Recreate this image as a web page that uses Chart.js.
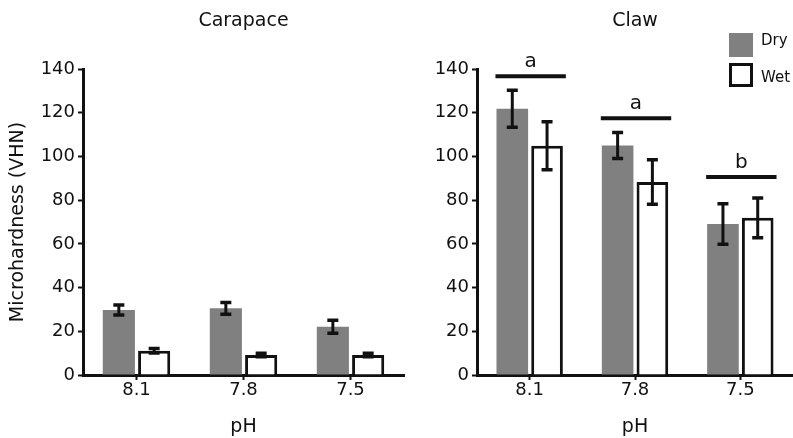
<!DOCTYPE html>
<html>
<head>
<meta charset="utf-8">
<script src="https://cdn.jsdelivr.net/npm/chart.js@4.4.1/dist/chart.umd.min.js"></script>
<style>
  html, body { margin: 0; padding: 0; background: #fff; }
  #wrap { position: relative; width: 793px; height: 438px; overflow: hidden; }
  #cL { position: absolute; left: 0; top: 0; }
  #cR { position: absolute; left: 410px; top: 0; }
</style>
</head>
<body>
<div id="wrap">
  <canvas id="cL" width="410" height="438"></canvas>
  <canvas id="cR" width="383" height="438"></canvas>
</div>
<script>
// ---- data ----
const categories = ['8.1', '7.8', '7.5'];
const carapaceDry = [29.7, 30.5, 22.1];
const carapaceDryErr = [2.3, 2.7, 3.0];
const carapaceWet = [11.1, 9.1, 9.2];
const carapaceWetErr = [1.0, 0.8, 0.8];
const clawDry = [121.8, 105.0, 69.1];
const clawDryErr = [8.5, 6.0, 9.3];
const clawWet = [104.9, 88.3, 71.9];
const clawWetErr = [11.0, 10.2, 9.1];
const clawSigLetters = ['a', 'a', 'b'];
const clawSigLevels = [136.7, 117.5, 90.6];
const yTicks = [0, 20, 40, 60, 80, 100, 120, 140];

const FONT = 'DejaVu Sans';
const INK = '#111';
const GRAY = '#808080';
Chart.defaults.font.family = FONT;
Chart.defaults.color = INK;

const errorBarPlugin = {
  id: 'errorBars',
  afterDatasetsDraw(chart) {
    const ctx = chart.ctx;
    const y = chart.scales.y;
    ctx.save();
    ctx.strokeStyle = INK;
    ctx.lineCap = 'butt';
    chart.data.datasets.forEach((ds, i) => {
      const meta = chart.getDatasetMeta(i);
      meta.data.forEach((el, j) => {
        const v = ds.data[j], e = ds.errors[j];
        const yt = y.getPixelForValue(v + e), yb = y.getPixelForValue(v - e);
        const half = 5.5;
        ctx.lineWidth = 3;
        ctx.beginPath();
        ctx.moveTo(el.x, yt); ctx.lineTo(el.x, yb);
        ctx.stroke();
        ctx.lineWidth = 3.5;
        ctx.beginPath();
        ctx.moveTo(el.x - half, yt); ctx.lineTo(el.x + half, yt);
        ctx.moveTo(el.x - half, yb); ctx.lineTo(el.x + half, yb);
        ctx.stroke();
      });
    });
    ctx.restore();
  }
};

const panelTitlePlugin = {
  id: 'panelTitle',
  afterDraw(chart, args, opts) {
    const ctx = chart.ctx;
    const a = chart.chartArea;
    ctx.save();
    ctx.fillStyle = INK;
    ctx.font = '19px ' + FONT;
    ctx.textAlign = 'center';
    ctx.textBaseline = 'middle';
    ctx.fillText(opts.text, (a.left + a.right) / 2, 21);
    ctx.restore();
  }
};

const sigPlugin = {
  id: 'sigBars',
  afterDraw(chart, args, opts) {
    if (!opts.levels) return;
    const ctx = chart.ctx;
    const y = chart.scales.y;
    const m0 = chart.getDatasetMeta(0), m1 = chart.getDatasetMeta(1);
    ctx.save();
    ctx.strokeStyle = INK;
    ctx.fillStyle = INK;
    ctx.lineWidth = 4;
    ctx.font = '20px ' + FONT;
    ctx.textAlign = 'center';
    ctx.textBaseline = 'alphabetic';
    opts.levels.forEach((lv, k) => {
      const b0 = m0.data[k], b1 = m1.data[k];
      const x0 = b0.x - b0.width / 2 - 1, x1 = b1.x + b1.width / 2 + 3;
      const py = y.getPixelForValue(lv);
      ctx.beginPath();
      ctx.moveTo(x0, py); ctx.lineTo(x1, py);
      ctx.stroke();
      ctx.fillText(opts.letters[k], (x0 + x1) / 2, py - 9);
    });
    ctx.restore();
  }
};

const legendPlugin = {
  id: 'boxLegend',
  afterDraw(chart, args, opts) {
    if (!opts.show) return;
    const ctx = chart.ctx;
    const x = chart.width - 64;
    ctx.save();
    ctx.font = '15px ' + FONT;
    ctx.textAlign = 'left';
    ctx.textBaseline = 'middle';
    chart.data.datasets.forEach((ds, i) => {
      const top = 33 + i * 30;
      if (ds.borderWidth) {
        ctx.fillStyle = ds.backgroundColor;
        ctx.fillRect(x, top, 24, 24);
        ctx.strokeStyle = ds.borderColor;
        ctx.lineWidth = 3;
        ctx.strokeRect(x + 1.5, top + 1.5, 21, 21);
      } else {
        ctx.fillStyle = ds.backgroundColor;
        ctx.fillRect(x, top, 24, 24);
      }
      ctx.fillStyle = INK;
      ctx.fillText(ds.label, x + 32, top + (i === 0 ? 8 : 15));
    });
    ctx.restore();
  }
};

function makeConfig(dry, dryErr, wet, wetErr, opts) {
  return {
    type: 'bar',
    data: {
      labels: categories,
      datasets: [
        { label: 'Dry', data: dry, errors: dryErr, backgroundColor: GRAY, borderWidth: 0,
          categoryPercentage: 0.66, barPercentage: 0.91 },
        { label: 'Wet', data: wet, errors: wetErr, backgroundColor: '#ffffff', borderColor: INK, borderWidth: 3,
          borderSkipped: 'start', categoryPercentage: 0.66, barPercentage: 0.91 }
      ]
    },
    options: {
      responsive: false,
      animation: false,
      events: [],
      layout: { padding: { top: 69, left: 0, right: opts.padRight, bottom: 0 } },
      plugins: {
        legend: { display: false },
        tooltip: { enabled: false },
        title: { display: false },
        panelTitle: { text: opts.title },
        sigBars: opts.sig || {},
        boxLegend: { show: !!opts.legend }
      },
      scales: {
        x: {
          afterFit(s) { s.height = 63; },
          grid: { display: true, drawOnChartArea: false, offset: false, drawTicks: true,
                  tickLength: 5, tickWidth: 2, tickColor: INK },
          border: { display: true, color: INK, width: 3 },
          ticks: { font: { size: 18 }, color: INK, padding: 0 },
          title: { display: true, text: 'pH', font: { size: 19 }, color: INK, padding: { top: 0, bottom: 0 } }
        },
        y: {
          min: 0, max: 140,
          afterFit(s) { s.width = opts.yWidth; },
          afterBuildTicks(s) { s.ticks = yTicks.map(v => ({ value: v })); },
          grid: { display: true, drawOnChartArea: false, drawTicks: true,
                  tickLength: 5, tickWidth: 2, tickColor: INK },
          border: { display: true, color: INK, width: 3 },
          ticks: { font: { size: 18 }, color: INK, padding: 3 },
          title: { display: !!opts.yTitle, text: opts.yTitle || '', font: { size: 19 }, color: INK,
                   padding: { top: 7, bottom: 0 } }
        }
      }
    },
    plugins: [errorBarPlugin, panelTitlePlugin, sigPlugin, legendPlugin]
  };
}

new Chart(document.getElementById('cL'),
  makeConfig(carapaceDry, carapaceDryErr, carapaceWet, carapaceWetErr,
    { title: 'Carapace', yTitle: 'Microhardness (VHN)', yWidth: 83, padRight: 6 }));

new Chart(document.getElementById('cR'),
  makeConfig(clawDry, clawDryErr, clawWet, clawWetErr,
    { title: 'Claw', yWidth: 67, padRight: 0, legend: true,
      sig: { letters: clawSigLetters, levels: clawSigLevels } }));
</script>
</body>
</html>
